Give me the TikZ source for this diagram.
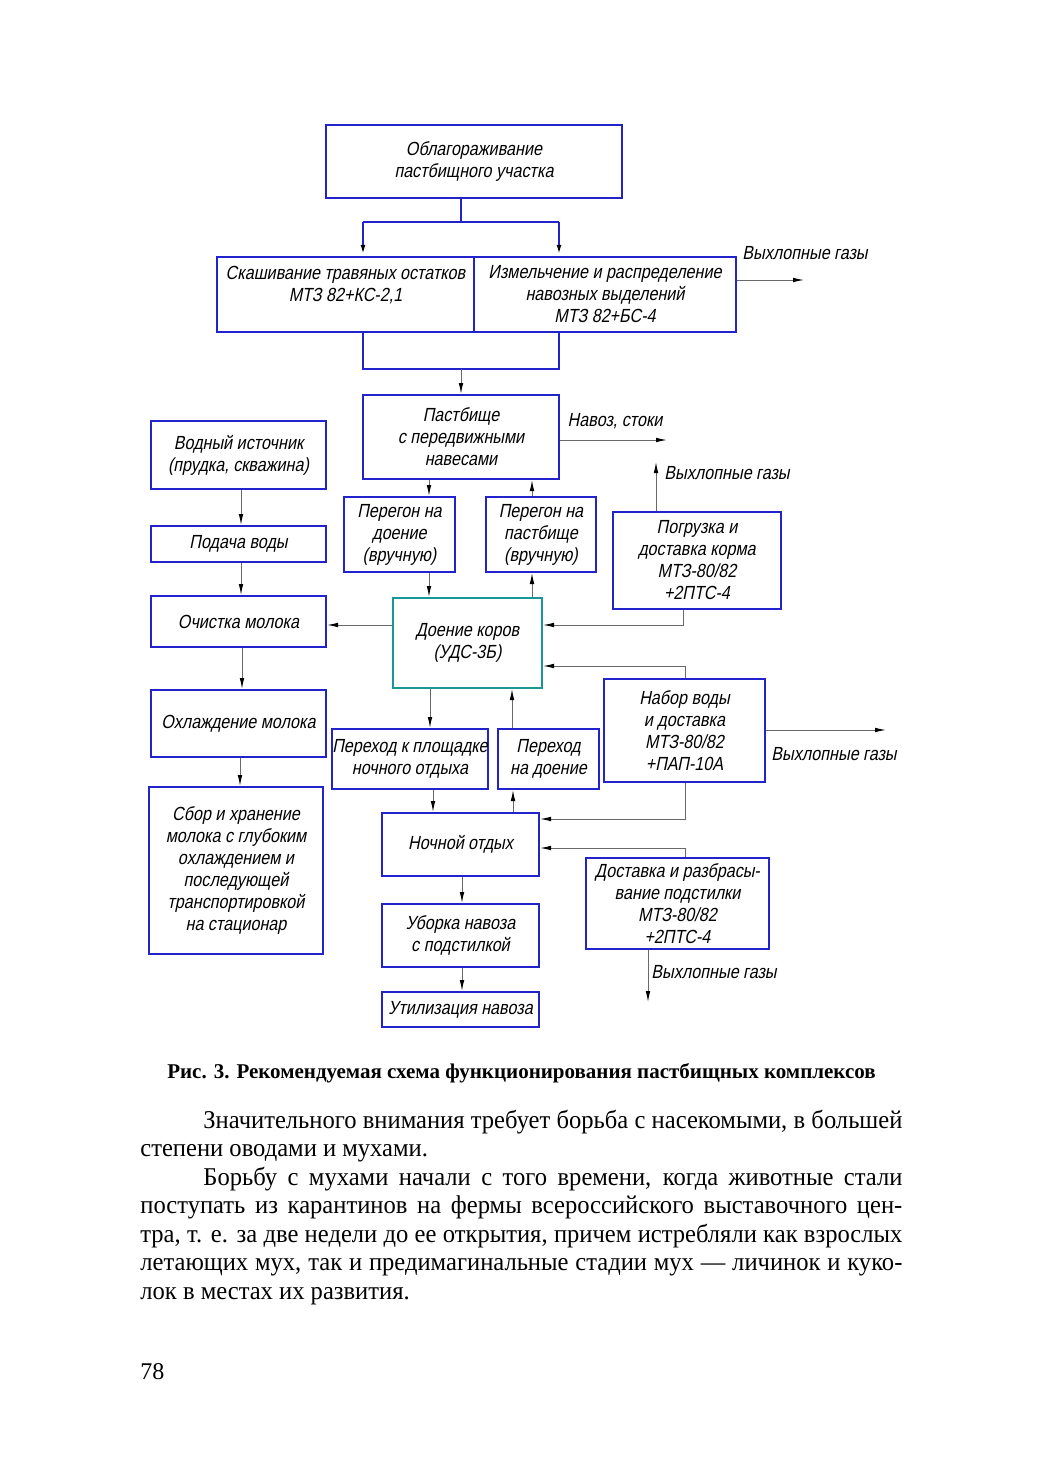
\documentclass[tikz,border=0pt]{standalone}
\usepackage{fontspec}
\setmainfont{Liberation Serif}
\newfontfamily\gost[FakeSlant=0.2,FakeStretch=0.85]{Liberation Sans}
\newfontfamily\bodyserif[FakeStretch=0.96]{Liberation Serif}
\newfontfamily\plainserif{Liberation Serif}
\usetikzlibrary{arrows.meta}
\definecolor{boxblue}{RGB}{35,35,205}
\definecolor{tealbox}{RGB}{25,150,150}
\definecolor{conn}{RGB}{105,105,105}
\newcommand\gostfont{\gost\fontsize{9.5}{11}\selectfont}
\tikzset{
  box/.style={draw=boxblue, line width=1pt, align=center, inner sep=0pt, font=\gostfont, text=black},
  arr/.style={draw=conn, line width=0.5pt, -{Latex[length=5.5pt,width=2.3pt,color=black]}},
  bline/.style={draw=boxblue, line width=1pt},
  barr/.style={draw=boxblue, line width=1pt, -{Latex[length=5.5pt,width=2.3pt,color=black]}},
  lbl/.style={font=\gostfont, inner sep=0pt},
}
\begin{document}
\begin{tikzpicture}[x=0.5pt,y=-0.5pt]
\useasboundingbox (0,0) rectangle (1040,1471);
\fill[white] (0,0) rectangle (1040,1471);

% boxes
\node[box, minimum width=148pt, minimum height=36.5pt] (top) at (474,161.5) {Облагораживание\\пастбищного участка};
\node[box, minimum width=128.5pt, minimum height=37.5pt] (combL) at (345.5,294.5) {Скашивание травяных остатков\\МТЗ 82+КС-2,1\\\mbox{}};
\node[box, minimum width=131pt, minimum height=37.5pt] (combR) at (605,294.5) {Измельчение и распределение\\навозных выделений\\МТЗ 82+БС-4};
\node[box, minimum width=98pt, minimum height=42pt] (past) at (461,437) {Пастбище\\с передвижными\\навесами};
\node[box, minimum width=87.5pt, minimum height=34pt] (water) at (238.5,455) {Водный источник\\(прудка, скважина)};
\node[box, minimum width=87.5pt, minimum height=18pt] (feed) at (238.5,544) {Подача воды};
\node[box, minimum width=87.5pt, minimum height=25.5pt] (clean) at (238.5,621.5) {Очистка молока};
\node[box, minimum width=87.5pt, minimum height=33.5pt] (cool) at (238.5,723.5) {Охлаждение молока};
\node[box, minimum width=87pt, minimum height=83.5pt] (store) at (236,870.5) {Сбор и хранение\\молока с глубоким\\охлаждением и\\последующей\\транспортировкой\\на стационар};
\node[box, minimum width=55.5pt, minimum height=37.5pt] (drive1) at (399.5,534.5) {Перегон на\\доение\\(вручную)};
\node[box, minimum width=55pt, minimum height=37.5pt] (drive2) at (541,534.5) {Перегон на\\пастбище\\(вручную)};
\node[box, minimum width=84pt, minimum height=48.5pt] (load) at (697,560.5) {Погрузка и\\доставка корма\\МТЗ-80/82\\+2ПТС-4};
\node[box, draw=tealbox, minimum width=74.5pt, minimum height=45pt] (milk) at (467.5,643) {Доение коров\\(УДС-3Б)};
\node[box, minimum width=80.5pt, minimum height=51.5pt] (wtr) at (684.5,730.5) {Набор воды\\и доставка\\МТЗ-80/82\\+ПАП-10А};
\node[box, minimum width=77pt, minimum height=30pt] (go1) at (410,759) {Переход к площадке\\ночного отдыха};
\node[box, minimum width=50.5pt, minimum height=30pt] (go2) at (548.5,759) {Переход\\на доение};
\node[box, minimum width=78.5pt, minimum height=31.5pt] (night) at (460.5,844.5) {Ночной отдых};
\node[box, minimum width=91.5pt, minimum height=45.5pt] (litter) at (677.5,903.5) {Доставка и разбрасы-\\вание подстилки\\МТЗ-80/82\\+2ПТС-4};
\node[box, minimum width=78.5pt, minimum height=31.5pt] (clear) at (460.5,935.5) {Уборка навоза\\с подстилкой};
\node[box, minimum width=78.5pt, minimum height=17.5pt] (util) at (460.5,1009.5) {Утилизация навоза};

% labels
\node[lbl] (ex1) at (805,253) {Выхлопные газы};
\node[lbl] (manure) at (615,421) {Навоз, стоки};
\node[lbl] (ex2) at (727,473) {Выхлопные газы};
\node[lbl] (ex3) at (834,754) {Выхлопные газы};
\node[lbl] (ex4) at (714,972) {Выхлопные газы};

% junctions and free ends
\coordinate (j1) at (461,222);
\coordinate (j1l) at (363,222);
\coordinate (j1r) at (559,222);
\coordinate (j2) at (461,369);
\coordinate (j2l) at (363,369);
\coordinate (j2r) at (559,369);
\coordinate (e1) at (804,280);
\coordinate (e2) at (667,440);
\coordinate (e3) at (656,462);
\coordinate (e4) at (886,730);
\coordinate (e5) at (648,1002);

% top connectors
\draw[bline] (top.south -| j1) -- (j1);
\draw[bline] (j1l) -- (j1r);
\draw[barr] (j1l) -- (combL.north -| j1l);
\draw[barr] (j1r) -- (combR.north -| j1r);
\draw[bline] (combL.south -| j2l) -- (j2l) -- (j2r) -- (combR.south -| j2r);
\draw[arr] (j2) -- (past.north -| j2);
\draw[arr] (combR.east |- e1) -- (e1);
\draw[arr] (past.east |- e2) -- (e2);

% left column
\draw[arr] (water.south -| 241,0) -- (feed.north -| 241,0);
\draw[arr] (feed.south -| 241,0) -- (clean.north -| 241,0);
\draw[arr] (clean.south -| 242,0) -- (cool.north -| 242,0);
\draw[arr] (cool.south -| 240,0) -- (store.north -| 240,0);

% pasture / driving
\draw[arr] (past.south -| 429,0) -- (drive1.north -| 429,0);
\draw[arr] (drive1.south -| 429,0) -- (milk.north -| 429,0);
\draw[arr] (milk.north -| 532,0) -- (drive2.south -| 532,0);
\draw[arr] (drive2.north -| 532,0) -- (past.south -| 532,0);
\draw[arr] (load.north -| e3) -- (e3);

% milking
\draw[arr] (milk.west |- 0,625) -- (clean.east |- 0,625);
\draw[arr] (load.south -| 683,0) -- (683,625) -- (milk.east |- 0,625);
\draw[arr] (wtr.north -| 685,0) -- (685,666) -- (milk.east |- 0,666);
\draw[arr] (wtr.east |- e4) -- (e4);
\draw[arr] (milk.south -| 430,0) -- (go1.north -| 430,0);
\draw[arr] (go2.north -| 512,0) -- (milk.south -| 512,0);

% night
\draw[arr] (go1.south -| 433,0) -- (night.north -| 433,0);
\draw[arr] (night.north -| 513,0) -- (go2.south -| 513,0);
\draw[arr] (wtr.south -| 685,0) -- (685,819) -- (night.east |- 0,819);
\draw[arr] (litter.north -| 685,0) -- (685,848) -- (night.east |- 0,848);
\draw[arr] (litter.south -| e5) -- (e5);
\draw[arr] (night.south -| 462,0) -- (clear.north -| 462,0);
\draw[arr] (clear.south -| 462,0) -- (util.north -| 462,0);

% caption, body text, page number
\node[anchor=base, inner sep=0pt, font=\plainserif\bfseries\fontsize{10.5}{12}\selectfont] (cap) at (521.5,1078) {Рис. 3. Рекомендуемая схема функционирования пастбищных комплексов};
\node[anchor=base west, inner sep=0pt, text width=381pt, align=justify, font=\bodyserif\fontsize{12.8}{14.25}\selectfont] (body) at (140,1128) {%
\hyphenpenalty=10000\exhyphenpenalty=10000
\hspace*{31.5pt}Значительного внимания требует борьба с насекомыми, в большей\linebreak
степени оводами и мухами.\par
\hspace*{31.5pt}Борьбу с мухами начали с того времени, когда животные стали\linebreak
поступать из карантинов на фермы всероссийского выставочного цен-\linebreak
тра, т. е. за две недели до ее открытия, причем истребляли как взрослых\linebreak
летающих мух, так и предимагинальные стадии мух — личинок и куко-\linebreak
лок в местах их развития.\par};
\node[anchor=base west, inner sep=0pt, font=\plainserif\fontsize{12}{14}\selectfont] (pg) at (140,1379) {78};
\end{tikzpicture}
\end{document}
